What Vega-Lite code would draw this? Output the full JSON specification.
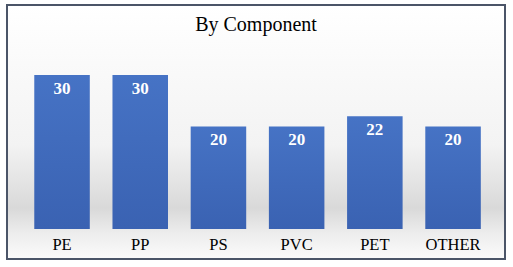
{
  "$schema": "https://vega.github.io/schema/vega-lite/v6.json",
  "autosize": "none",
  "width": 498,
  "height": 254,
  "padding": {"left": 7, "top": 5, "right": 8, "bottom": 8},
  "background": "#ffffff",
  "config": {
    "view": {
      "stroke": "#4b5568",
      "strokeWidth": 2,
      "fill": {"gradient": "linear", "x1": 0, "y1": 0, "x2": 0, "y2": 1,
        "stops": [
          {"offset": 0, "color": "#ffffff"},
          {"offset": 0.55, "color": "#f3f3f3"},
          {"offset": 0.8, "color": "#d9d9d9"},
          {"offset": 0.9, "color": "#ededed"},
          {"offset": 1, "color": "#fbfbfb"}
        ]}
    },
    "font": "Liberation Serif"
  },
  "data": {
    "values": [
      {"component": "PE", "value": 30},
      {"component": "PP", "value": 30},
      {"component": "PS", "value": 20},
      {"component": "PVC", "value": 20},
      {"component": "PET", "value": 22},
      {"component": "OTHER", "value": 20}
    ]
  },
  "layer": [
    {
      "mark": {
        "type": "bar",
        "color": {"gradient": "linear", "x1": 0, "y1": 0, "x2": 0, "y2": 1,
          "stops": [
            {"offset": 0, "color": "#4673c5"},
            {"offset": 1, "color": "#3a62b2"}
          ]}
      },
      "encoding": {
        "x": {
          "field": "component",
          "type": "nominal",
          "sort": null,
          "scale": {"paddingInner": 0.29, "paddingOuter": 0.329, "align": 0.53},
          "axis": null
        },
        "y": {"field": "value", "type": "quantitative", "scale": {"domain": [-5.85, 43.67], "nice": false, "zero": false}, "axis": null},
        "y2": {"datum": 0}
      }
    },
    {
      "mark": {"type": "text", "baseline": "top", "dy": 6, "color": "#ffffff", "fontWeight": "bold", "fontSize": 17, "font": "Liberation Serif"},
      "encoding": {
        "x": {"field": "component", "type": "nominal", "sort": null},
        "y": {"field": "value", "type": "quantitative"},
        "text": {"field": "value", "type": "quantitative"}
      }
    },
    {
      "mark": {"type": "text", "baseline": "middle", "color": "#000000", "fontSize": 16.5, "font": "Liberation Serif"},
      "encoding": {
        "x": {"field": "component", "type": "nominal", "sort": null},
        "y": {"datum": -3.1},
        "text": {"field": "component", "type": "nominal"}
      }
    },
    {
      "data": {"values": [{"title": "By Component"}]},
      "mark": {"type": "text", "baseline": "middle", "align": "center", "color": "#000000", "fontSize": 20, "font": "Liberation Serif"},
      "encoding": {
        "y": {"datum": 39.77},
        "text": {"field": "title", "type": "nominal"}
      }
    }
  ]
}
